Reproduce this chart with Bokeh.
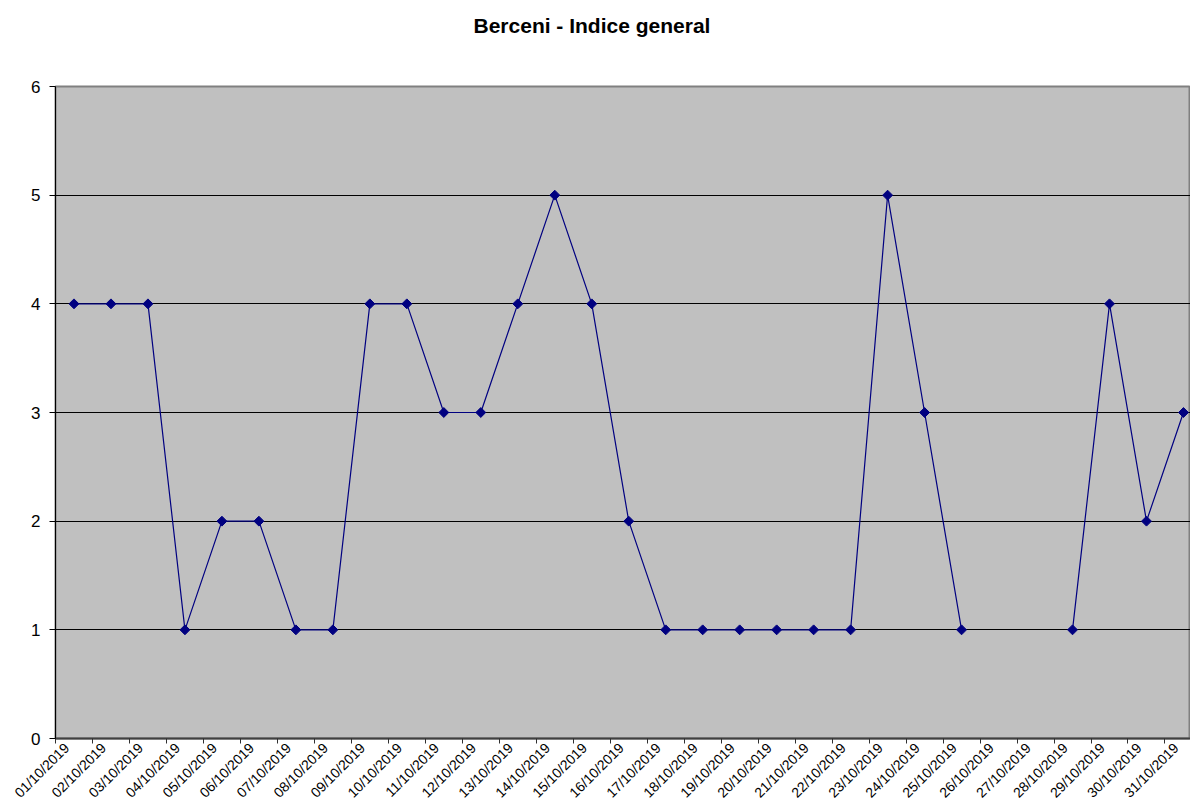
import math
from bokeh.plotting import figure
from bokeh.models import Range1d, FixedTicker, ColumnDataSource, Title
from bokeh.embed import file_html
from bokeh.resources import INLINE

title_text = "Berceni - Indice general"
dates = ["%02d/10/2019" % d for d in range(1, 32)]
values = [4, 4, 4, 1, 2, 2, 1, 1, 4, 4, 3, 3, 4, 5, 4, 2, 1, 1, 1, 1, 1, 1, 5, 3, 1,
          None, None, 1, 4, 2, 3]
y_ticks = [0, 1, 2, 3, 4, 5, 6]

xs = list(range(1, len(dates) + 1))
ys = [float("nan") if v is None else v for v in values]

# rotated labels sit slightly left of each category centre, as in the reference
label_shift = 0.2
label_pos = [x - label_shift for x in xs]

p = figure(width=1190, height=809, output_backend="svg", toolbar_location=None,
           x_range=Range1d(0.5, 31.19), y_range=Range1d(0, 6),
           min_border_left=55, min_border_right=0, min_border_top=86, min_border_bottom=71)

p.background_fill_color = "#C0C0C0"
p.border_fill_color = "white"
p.outline_line_color = "#808080"
p.outline_line_width = 2

# blank spacer between title and plot area
spacer = Title(text=" ", text_font_size="1px", standoff=32)
p.add_layout(spacer, "above")

p.title.text = title_text
p.title.align = "left"
p.title.offset = 418
p.title.vertical_align = "top"
p.title.standoff = 26
p.title.text_font = "Liberation Sans"
p.title.text_font_size = "21px"
p.title.text_font_style = "bold"
p.title.text_color = "black"

# x axis
xa = p.xaxis[0]
xa.ticker = FixedTicker(ticks=label_pos, minor_ticks=[i + 0.5 for i in range(0, 32)])
xa.major_label_overrides = {x: d for x, d in zip(label_pos, dates)}
xa.major_label_orientation = math.pi / 4
xa.major_tick_out = 0
xa.major_tick_in = 0
xa.minor_tick_out = 5
xa.minor_tick_in = 0
xa.minor_tick_line_color = "#303030"
xa.axis_line_color = "#404040"
xa.axis_line_width = 2
xa.major_label_text_font = "Liberation Sans"
xa.major_label_text_font_size = "14px"
xa.major_label_text_color = "black"
xa.major_label_standoff = 2

# y axis
ya = p.yaxis[0]
ya.ticker = FixedTicker(ticks=y_ticks)
ya.major_tick_out = 6
ya.major_tick_in = 0
ya.minor_tick_out = 0
ya.minor_tick_in = 0
ya.axis_line_color = "black"
ya.major_tick_line_color = "black"
ya.major_label_text_font = "Liberation Sans"
ya.major_label_text_font_size = "17px"
ya.major_label_text_color = "black"
ya.major_label_standoff = 9

p.xgrid.visible = False
p.ygrid.ticker = FixedTicker(ticks=[1, 2, 3, 4, 5])
p.ygrid.grid_line_color = "black"
p.ygrid.grid_line_width = 1
p.ygrid.level = "underlay"

src = ColumnDataSource(dict(x=xs, y=ys))
p.line("x", "y", source=src, line_color="#000080", line_width=1.2, level="overlay")
p.scatter("x", "y", source=src, marker="square", angle=math.pi / 4, size=7,
          fill_color="#000080", line_color="#000080", level="overlay")

open("out.html", "w").write(file_html(p, INLINE))
